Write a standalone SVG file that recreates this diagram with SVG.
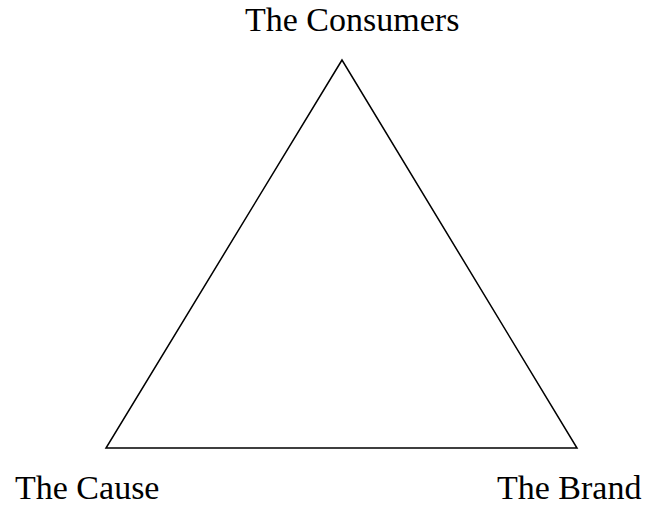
<svg xmlns="http://www.w3.org/2000/svg" width="646" height="506" viewBox="0 0 646 506">
<style>
.lbl{font-family:"Liberation Serif","Times New Roman",serif;font-size:34px;fill:#000}
.edge{fill:none;stroke:#000;stroke-width:1.5}
</style>
<rect width="646" height="506" fill="#fff"/>
<g id="connectors">
<polygon class="edge" points="342,60 106,448 577,448"/>
</g>
<g id="consumers"><text class="lbl" x="245" y="31">The Consumers</text></g>
<g id="cause"><text class="lbl" x="15" y="499">The Cause</text></g>
<g id="brand"><text class="lbl" x="497" y="499">The Brand</text></g>
</svg>
